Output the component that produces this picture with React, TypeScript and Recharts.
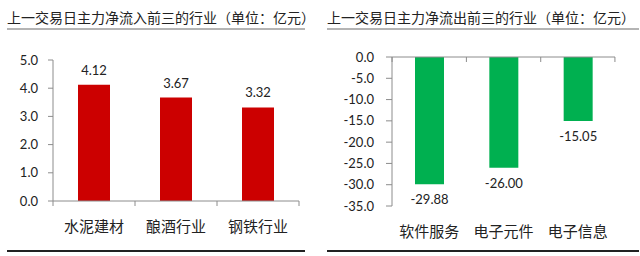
import React from 'react';
import { BarChart, Bar, XAxis, YAxis, LabelList } from 'recharts';

const inflowCategories = ['水泥建材', '酿酒行业', '钢铁行业'];
const inflowValues = [4.12, 3.67, 3.32];
const inflowTicks = [0, 1, 2, 3, 4, 5];

const outflowCategories = ['软件服务', '电子元件', '电子信息'];
const outflowValues = [-29.88, -26.0, -15.05];
const outflowTicks = [-35, -30, -25, -20, -15, -10, -5, 0];

const inflowData = inflowCategories.map((name, i) => ({ name, value: inflowValues[i] }));
const outflowData = outflowCategories.map((name, i) => ({ name, value: outflowValues[i] }));

const CJK = '"Noto Sans CJK SC", sans-serif';
const NUM = 'Lato, "Open Sans", sans-serif';
const AXIS = '#8c8c8c';

// draws Excel-style tick marks at category boundaries plus the label
const makeCatTick = (band: number, count: number, labelOffset: number) => (props: any) => {
  const { x, y, payload, index } = props;
  const left = x - band / 2;
  return (
    <g>
      <line x1={left} y1={y} x2={left} y2={y + 5} stroke={AXIS} strokeWidth={1} />
      {index === count - 1 && (
        <line x1={x + band / 2} y1={y} x2={x + band / 2} y2={y + 5} stroke={AXIS} strokeWidth={1} />
      )}
      <text x={x} y={y + labelOffset} textAnchor="middle" dominantBaseline="central"
        fontFamily={CJK} fontSize={15} fill="#222">
        {payload.value}
      </text>
    </g>
  );
};

const topLabel = (props: any) => {
  const { x, y, width, height, value } = props;
  const top = Math.min(y, y + height);
  return (
    <text x={x + width / 2} y={top - 15} textAnchor="middle" dominantBaseline="central"
      fontFamily={NUM} fontSize={13} fill="#222">
      {Number(value).toFixed(2)}
    </text>
  );
};

const bottomLabel = (props: any) => {
  const { x, y, width, height, value } = props;
  const bottom = Math.max(y, y + height);
  return (
    <text x={x + width / 2} y={bottom + 15} textAnchor="middle" dominantBaseline="central"
      fontFamily={NUM} fontSize={13} fill="#222">
      {Number(value).toFixed(2)}
    </text>
  );
};

const Title = ({ left, width, text }: { left: number; width: number; text: string }) => (
  <>
    <div style={{ position: 'absolute', left, top: 7, fontFamily: CJK, fontSize: 14, color: '#222', whiteSpace: 'nowrap', lineHeight: '20px' }}>
      {text}
    </div>
    <div style={{ position: 'absolute', left, top: 28, width, height: 2, background: '#b4b4b4' }} />
    <div style={{ position: 'absolute', left, top: 250, width, height: 1.5, background: '#222' }} />
  </>
);

export default function App() {
  return (
    <div style={{ position: 'absolute', left: 0, top: 0, width: 640, height: 256, background: '#fff', overflow: 'hidden' }}>
      <Title left={7} width={298} text="上一交易日主力净流入前三的行业（单位：亿元）" />
      <Title left={327} width={312} text="上一交易日主力净流出前三的行业（单位：亿元）" />

      <div style={{ position: 'absolute', left: 0, top: 0 }}>
        <BarChart width={320} height={256} data={inflowData}
          margin={{ top: 60, right: 21, bottom: 54, left: 8 }}>
          <XAxis dataKey="name" height={1} tickSize={0} tickMargin={0} stroke={AXIS}
            tick={makeCatTick(82, 3, 24)} interval={0} />
          <YAxis width={45} domain={[0, 5]} ticks={inflowTicks} tickSize={5} tickMargin={10}
            stroke={AXIS} tickFormatter={(v: number) => v.toFixed(1)}
            tick={{ fill: '#222', fontSize: 13, fontFamily: NUM }} />
          <Bar dataKey="value" fill="#cc0000" barSize={32} isAnimationActive={false}>
            <LabelList dataKey="value" content={topLabel} />
          </Bar>
        </BarChart>
      </div>

      <div style={{ position: 'absolute', left: 320, top: 0 }}>
        <BarChart width={320} height={256} data={outflowData}
          margin={{ top: 56, right: 25, bottom: 50, left: 8 }}>
          <XAxis dataKey="name" orientation="top" height={1} tickSize={0} tickMargin={0} stroke={AXIS}
            tick={makeCatTick(74.2, 3, 173)} interval={0} />
          <YAxis width={64} domain={[-35, 0]} ticks={outflowTicks} tickSize={6} tickMargin={12}
            stroke={AXIS} tickFormatter={(v: number) => v.toFixed(1)}
            tick={{ fill: '#222', fontSize: 13, fontFamily: NUM }} />
          <Bar dataKey="value" fill="#00b050" barSize={29} isAnimationActive={false}>
            <LabelList dataKey="value" content={bottomLabel} />
          </Bar>
        </BarChart>
      </div>
    </div>
  );
}
